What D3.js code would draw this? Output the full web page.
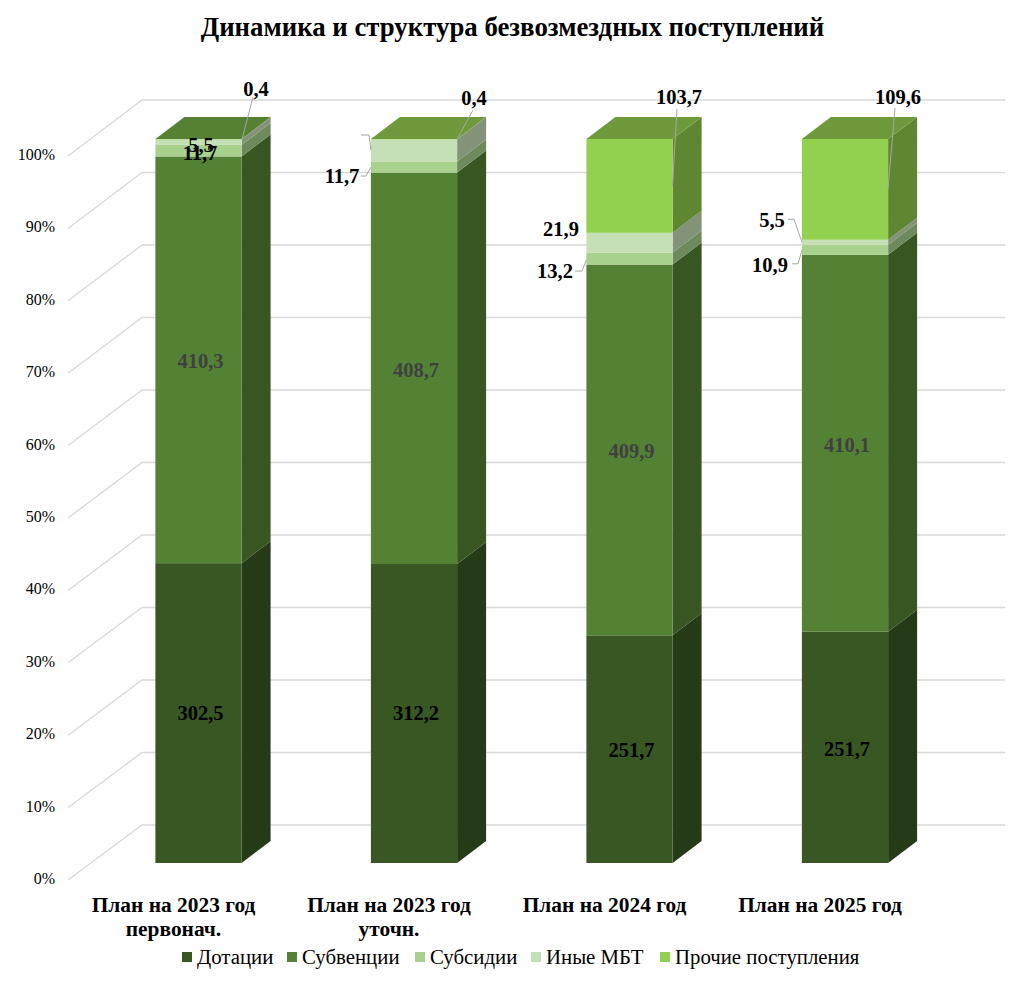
<!DOCTYPE html>
<html>
<head>
<meta charset="utf-8">
<script src="https://cdn.jsdelivr.net/npm/d3@7"></script>
<style>
  html, body { margin: 0; padding: 0; background: #fff; }
  svg { display: block; }
  text { font-family: "Liberation Serif", serif; fill: #000; }
</style>
</head>
<body>
<div id="chart"></div>
<script>
var width = 1025, height = 989;

// data
var categories = ["План на 2023 год|первонач.", "План на 2023 год|уточн.", "План на 2024 год", "План на 2025 год"];
var seriesNames = ["Дотации", "Субвенции", "Субсидии", "Иные МБТ", "Прочие поступления"];
var dotacii = [302.5, 312.2, 251.7, 251.7];
var subvencii = [410.3, 408.7, 409.9, 410.1];
var subsidii = [11.7, 11.7, 13.2, 10.9];
var inye = [5.5, 23.0, 21.9, 5.5];
var prochie = [0.4, 0.4, 103.7, 109.6];
var percentTicks = [0, 0.1, 0.2, 0.3, 0.4, 0.5, 0.6, 0.7, 0.8, 0.9, 1];

// colours, one per series
var frontColors = ["#385723", "#548235", "#a9d18e", "#c5e0b4", "#92d050"];
var sideColors = ["#253a17", "#375622", "#6e8a5d", "#83937a", "#5f8732"];
var topColors = ["#568033", "#6f9a3c", "#6f9a3c", "#6f9a3c"];

var depthX = 29, depthY = 22;

var svg = d3.select("#chart").append("svg")
  .attr("width", width)
  .attr("height", height);

var rows = categories.map(function(c, i) {
  return { cat: c, "Дотации": dotacii[i], "Субвенции": subvencii[i], "Субсидии": subsidii[i], "Иные МБТ": inye[i], "Прочие поступления": prochie[i] };
});
var stacked = d3.stack().keys(seriesNames).offset(d3.stackOffsetExpand)(rows);

var x = d3.scaleBand().domain(categories).range([90.75, 952.75]).paddingInner(0.6).paddingOuter(0.3);
var y = d3.scaleLinear().domain([0, 1]).range([863, 139]);
var wallY = d3.scaleLinear().domain([0, 1]).range([825, 100]);
var axisY = d3.scaleLinear().domain([0, 1]).range([880, 156]);

// title
svg.append("text")
  .attr("x", 512.5).attr("y", 36)
  .attr("text-anchor", "middle")
  .style("font-size", "26.8px").style("font-weight", "bold")
  .text("Динамика и структура безвозмездных поступлений");

// walls
var grid = svg.append("g").attr("fill", "none").attr("stroke", "#d9d9d9").attr("stroke-width", 1.3);
percentTicks.forEach(function(t) {
  grid.append("path")
    .attr("d", "M68," + axisY(t) + "L142," + wallY(t) + "H1005");
});

// y axis
var axis = svg.append("g")
  .attr("transform", "translate(68,0)")
  .call(d3.axisLeft(axisY).tickValues(percentTicks).tickSize(0).tickPadding(13).tickFormat(d3.format(".0%")));
axis.select(".domain").remove();
axis.selectAll("text").style("font-size", "16px").style("font-family", '"Liberation Serif", serif').attr("dy", "0.22em");

// bars
categories.forEach(function(c, i) {
  var g = svg.append("g");
  var x0 = x(c), x1 = x0 + x.bandwidth();
  stacked.forEach(function(s, si) {
    var yb = y(s[i][0]), yt = y(s[i][1]);
    g.append("path")
      .attr("d", "M" + x1 + "," + yb + "l" + depthX + "," + (-depthY) + "V" + (yt - depthY) + "L" + x1 + "," + yt + "Z")
      .attr("fill", sideColors[si]);
    g.append("rect")
      .attr("x", x0).attr("y", yt)
      .attr("width", x.bandwidth()).attr("height", yb - yt)
      .attr("fill", frontColors[si]);
  });
  g.append("path")
    .attr("d", "M" + x0 + "," + y(1) + "l" + depthX + "," + (-depthY) + "H" + (x1 + depthX) + "L" + x1 + "," + y(1) + "Z")
    .attr("fill", topColors[i]);
});

// centred labels
function segMid(si, i) {
  return (y(stacked[si][i][0]) + y(stacked[si][i][1])) / 2;
}
function barMid(i) {
  return x(categories[i]) + x.bandwidth() / 2;
}
function valueOf(si, i) {
  return String(rows[i][seriesNames[si]].toFixed(1)).replace(".", ",");
}

var centred = [
  [0, 0, 2, 0], [0, 1, 2, 0], [0, 2, 2, 1.5], [0, 3, 2, 1.5],
  [1, 0, 2, 1.5], [1, 1, 2, 1.5], [1, 2, 2, 1.5], [1, 3, 2, 1.5],
  [2, 0, 1.5, 3], [3, 0, 2.5, 3]
];
centred.forEach(function(d) {
  svg.append("text")
    .attr("x", barMid(d[1]) + d[2]).attr("y", segMid(d[0], d[1]) + d[3])
    .attr("dy", "0.33em").attr("text-anchor", "middle")
    .style("font-size", "20.5px").style("font-weight", "bold")
    .style("fill", d[0] == 1 ? "#404040" : "#000")
    .text(valueOf(d[0], d[1]));
});

// labels moved off the bar, with their leader lines. series, bar, label offset, leader offsets
var moved = [
  { s: 4, b: 0, at: [57.5, -50], line: [[54.5, -42], [43.5, 0]] },
  { s: 4, b: 1, at: [60, -41], line: [[59, -29], [43, 0]] },
  { s: 2, b: 1, at: [-72, 9], line: [[-53, 9], [-48, 9], [-43, 0]] },
  { s: 3, b: 1, at: null, line: [[-53, -15.4], [-45, -15.4], [-43, 0]] },
  { s: 4, b: 2, at: [49.5, -89], line: [[47.5, -77], [43, 0]] },
  { s: 3, b: 2, at: [-68.5, -13.7], line: null },
  { s: 2, b: 2, at: [-74.5, 12.5], line: [[-54.5, 12.5], [-47.5, 12.5], [-43, 1]] },
  { s: 4, b: 3, at: [53, -92.4], line: [[50, -81.4], [43, 0]] },
  { s: 3, b: 3, at: [-73, -22], line: [[-57, -23], [-51, -23], [-43, 0]] },
  { s: 2, b: 3, at: [-75, 15], line: [[-53, 14], [-47, 14], [-43, 0]] }
];
moved.forEach(function(d) {
  var cx = barMid(d.b), cy = segMid(d.s, d.b);
  if (d.line) {
    svg.append("path")
      .attr("d", d3.line().x(function(p) { return cx + p[0]; }).y(function(p) { return cy + p[1]; })(d.line))
      .attr("fill", "none").attr("stroke", "#a6a6a6").attr("stroke-width", 1);
  }
  if (d.at) {
    svg.append("text")
      .attr("x", cx + d.at[0]).attr("y", cy + d.at[1])
      .attr("dy", "0.33em").attr("text-anchor", "middle")
      .style("font-size", "20.5px").style("font-weight", "bold")
      .text(valueOf(d.s, d.b));
  }
});

// category labels
categories.forEach(function(c, i) {
  var t = svg.append("text")
    .attr("x", barMid(i) - 25).attr("y", 912)
    .attr("text-anchor", "middle")
    .style("font-size", "21.4px").style("font-weight", "bold");
  c.split("|").forEach(function(line, k) {
    t.append("tspan").attr("x", barMid(i) - 25).attr("dy", k ? 24 : 0).text(line);
  });
});

// legend
var legendX = [182, 287, 415, 531, 660];
seriesNames.forEach(function(n, i) {
  svg.append("rect").attr("x", legendX[i]).attr("y", 952).attr("width", 10).attr("height", 10).attr("fill", frontColors[i]);
  svg.append("text").attr("x", legendX[i] + 15).attr("y", 964).style("font-size", "20.8px").text(n);
});
</script>
</body>
</html>
